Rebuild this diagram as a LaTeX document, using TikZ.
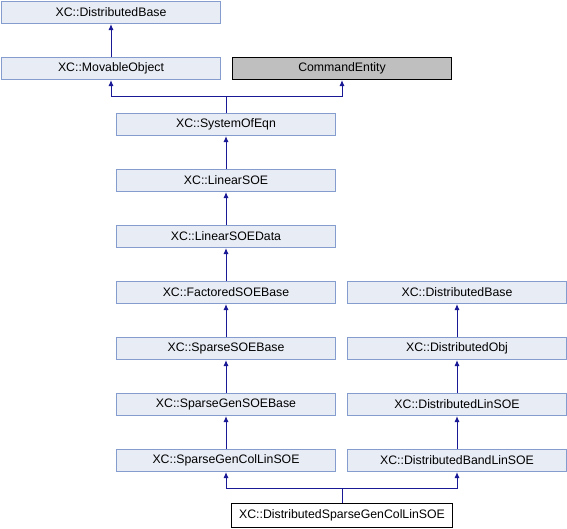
\documentclass[tikz,border=0pt]{standalone}
\usepackage{fontspec}
\setmainfont{Liberation Sans}
\usetikzlibrary{arrows.meta}
\definecolor{boxfill}{RGB}{232,236,245}
\definecolor{boxline}{RGB}{132,156,206}
\definecolor{arr}{RGB}{25,25,150}
\begin{document}
\begin{tikzpicture}[x=1pt,y=-1pt,
  cls/.style={draw=boxline,fill=boxfill,line width=1pt,minimum width=219pt,minimum height=22pt,inner sep=0pt,font=\fontsize{12.3}{14}\selectfont,anchor=north west},
  ext/.style={cls,draw=black,fill=gray!50},
  main/.style={cls,draw=black,fill=white,minimum width=221pt,minimum height=24pt},
  inh/.style={draw=arr,line width=1pt,-{Latex[length=6pt,width=5pt]}}]
\useasboundingbox (0,0) rectangle (567,528);
\node[cls] (db) at (1,1) {XC::DistributedBase};
\node[cls] (mo) at (1,57) {XC::MovableObject};
\node[ext] (ce) at (232,57) {CommandEntity};
\node[cls] (soe) at (116,113) {XC::SystemOfEqn};
\node[cls] (lin) at (116,169) {XC::LinearSOE};
\node[cls] (lind) at (116,225) {XC::LinearSOEData};
\node[cls] (fac) at (116,281) {XC::FactoredSOEBase};
\node[cls] (sp) at (116,337) {XC::SparseSOEBase};
\node[cls] (spg) at (116,393) {XC::SparseGenSOEBase};
\node[cls] (spgc) at (116,449) {XC::SparseGenColLinSOE};
\node[cls] (db2) at (347,281) {XC::DistributedBase};
\node[cls] (dobj) at (347,337) {XC::DistributedObj};
\node[cls] (dlin) at (347,393) {XC::DistributedLinSOE};
\node[cls] (dband) at (347,449) {XC::DistributedBandLinSOE};
\node[main] (dsp) at (231,503) {XC::DistributedSparseGenColLinSOE};
\draw[inh] (mo.north) -- (db.south);
\coordinate (j1) at (soe.north |- 0,96);
\draw[inh] (soe.north) -- (j1) -| (mo.south);
\draw[inh] (j1) -| (ce.south);
\draw[inh] (lin.north) -- (soe.south);
\draw[inh] (lind.north) -- (lin.south);
\draw[inh] (fac.north) -- (lind.south);
\draw[inh] (sp.north) -- (fac.south);
\draw[inh] (spg.north) -- (sp.south);
\draw[inh] (spgc.north) -- (spg.south);
\draw[inh] (dobj.north) -- (db2.south);
\draw[inh] (dlin.north) -- (dobj.south);
\draw[inh] (dband.north) -- (dlin.south);
\coordinate (j2) at (dsp.north |- 0,488);
\draw[inh] (dsp.north) -- (j2) -| (spgc.south);
\draw[inh] (j2) -| (dband.south);
\end{tikzpicture}
\end{document}
